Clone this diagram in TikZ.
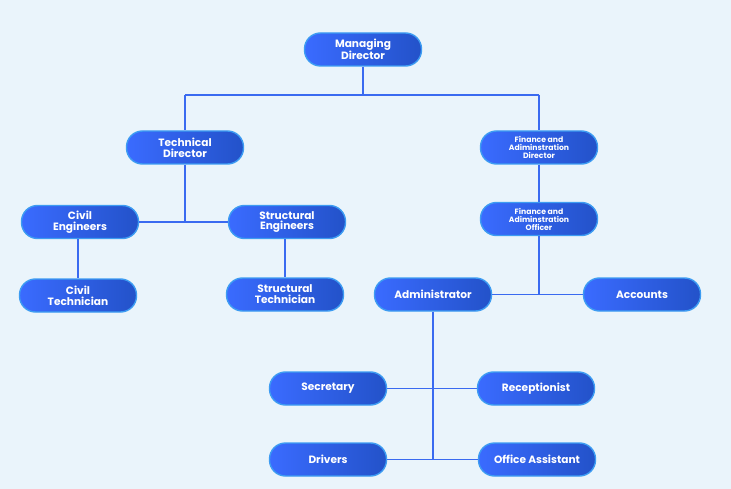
\documentclass[tikz,border=0pt]{standalone}
\usepackage{fontspec}
\setmainfont{Poppins}
\definecolor{bg}{HTML}{EAF4FB}
\definecolor{nleft}{HTML}{3A6BFF}
\definecolor{nright}{HTML}{2352C9}
\definecolor{nborder}{HTML}{3D9CF2}
\definecolor{wire}{HTML}{3A6AF0}
\tikzset{
  box/.style={rounded corners=16pt, minimum width=117pt, minimum height=33pt,
    left color=nleft, right color=nright, draw=nborder, line width=1.4pt,
    text=white, align=center, font=\fontsize{10.6}{10.8}\selectfont\bfseries, inner sep=2pt},
  smallbox/.style={box, font=\fontsize{7.7}{8}\selectfont\bfseries},
  wirestyle/.style={draw=wire, line width=1.8pt}
}
\begin{document}
\begin{tikzpicture}[x=1pt,y=-1pt]
\fill[bg] (0,0) rectangle (731,489);
\useasboundingbox (0,0) rectangle (731,489);
\coordinate (j1) at (363,95);
\coordinate (j1l) at (185,95);
\coordinate (j1r) at (539,95);
\coordinate (j2) at (185,222);
\coordinate (j3) at (539,294);
\coordinate (j5) at (433,459.5);
\node[box] (md) at (363,49.5) {Managing\\Director};
\node[box] (td) at (185,147.5) {Technical\\Director};
\node[smallbox] (fad) at (539,147.5) {Finance and\\Adiminstration\\Director};
\node[box] (ce) at (80,222) {Civil\\Engineers};
\node[box] (se) at (287,222) {Structural\\Engineers};
\node[smallbox] (fao) at (539,219) {Finance and\\Adiminstration\\Officer};
\node[box] (ct) at (78,295.5) {Civil\\Technician};
\node[box] (st) at (285,294.5) {Structural\\Technician};
\node[box] (ad) at (433,294.5) {Administrator};
\node[box] (ac) at (642,294.5) {Accounts};
\node[box] (sec) at (328,388.5) {Secretary};
\node[box] (rec) at (536,388.5) {Receptionist};
\node[box] (dr) at (328,459.5) {Drivers};
\node[box] (oa) at (537,459.5) {Office Assistant};
\draw[wirestyle] (md.south) -- (j1);
\draw[wirestyle] (j1l) -- (j1r);
\draw[wirestyle] (j1l) -- (td.north);
\draw[wirestyle] (j1r) -- (fad.north);
\draw[wirestyle] (td.south) -- (j2);
\draw[wirestyle] (ce.east) -- (se.west);
\draw[wirestyle] (ce.south -| ct.north) -- (ct.north);
\draw[wirestyle] (se.south -| st.north) -- (st.north);
\draw[wirestyle] (fad.south) -- (fao.north);
\draw[wirestyle] (fao.south) -- (j3);
\draw[wirestyle] (ad.east) -- (ac.west);
\draw[wirestyle] (ad.south) -- (j5);
\draw[wirestyle] (sec.east) -- (rec.west);
\draw[wirestyle] (dr.east) -- (oa.west);
\end{tikzpicture}
\end{document}
